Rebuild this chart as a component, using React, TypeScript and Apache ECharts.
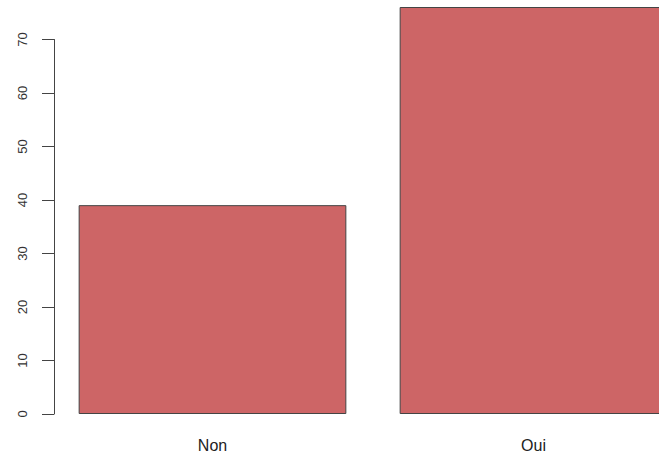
import React, { useEffect, useRef } from "react";
import * as echarts from "echarts";

// Réponses (effectifs)
const categories: string[] = ["Non", "Oui"];
const counts: number[] = [39, 76];

// Graduations de l'axe vertical
const yTickMin = 0;
const yTickMax = 70;
const yTickStep = 10;
const barScaleMax = 76;

const FONT = "'Liberation Sans', Arial, Helvetica, sans-serif";

export default function App() {
  const ref = useRef<HTMLDivElement>(null);

  useEffect(() => {
    if (!ref.current) return;
    const chart = echarts.init(ref.current, undefined, { renderer: "svg" });
    chart.setOption({
      animation: false,
      backgroundColor: "#ffffff",
      grid: [
        // bars (the plot region runs past the right edge of the window)
        { left: 52, width: 642, top: 7, bottom: 45 },
        // visible y axis, drawn only over 0..70 like R's axis()
        { left: 54, width: 1, top: 39.5, bottom: 45 },
      ],
      xAxis: [
        {
          type: "category",
          gridIndex: 0,
          data: categories,
          axisLine: { show: false },
          axisTick: { show: false },
          axisLabel: {
            margin: 23,
            fontSize: 16,
            fontFamily: FONT,
            color: "#222",
          },
        },
        { type: "value", gridIndex: 1, show: false, min: 0, max: 1 },
      ],
      yAxis: [
        {
          type: "value",
          gridIndex: 0,
          min: 0,
          max: barScaleMax,
          show: false,
        },
        {
          type: "value",
          gridIndex: 1,
          min: yTickMin,
          max: yTickMax,
          interval: yTickStep,
          splitLine: { show: false },
          axisLine: { show: true, lineStyle: { color: "#444", width: 1 } },
          axisTick: { show: true, length: 12, lineStyle: { color: "#444", width: 1 } },
          axisLabel: {
            rotate: 90,
            margin: 25,
            fontSize: 13,
            fontFamily: FONT,
            color: "#333",
          },
        },
      ],
      series: [
        {
          type: "bar",
          xAxisIndex: 0,
          yAxisIndex: 0,
          data: counts,
          barCategoryGap: "16.6%",
          itemStyle: {
            color: "#CD6566",
            borderColor: "#444",
            borderWidth: 1,
          },
          silent: true,
        },
      ],
    });
    return () => chart.dispose();
  }, []);

  return (
    <div
      style={{
        position: "fixed",
        left: 0,
        top: 0,
        width: 659,
        height: 459,
        overflow: "hidden",
        background: "#ffffff",
      }}
    >
      <div ref={ref} style={{ width: 700, height: 459 }} />
    </div>
  );
}
